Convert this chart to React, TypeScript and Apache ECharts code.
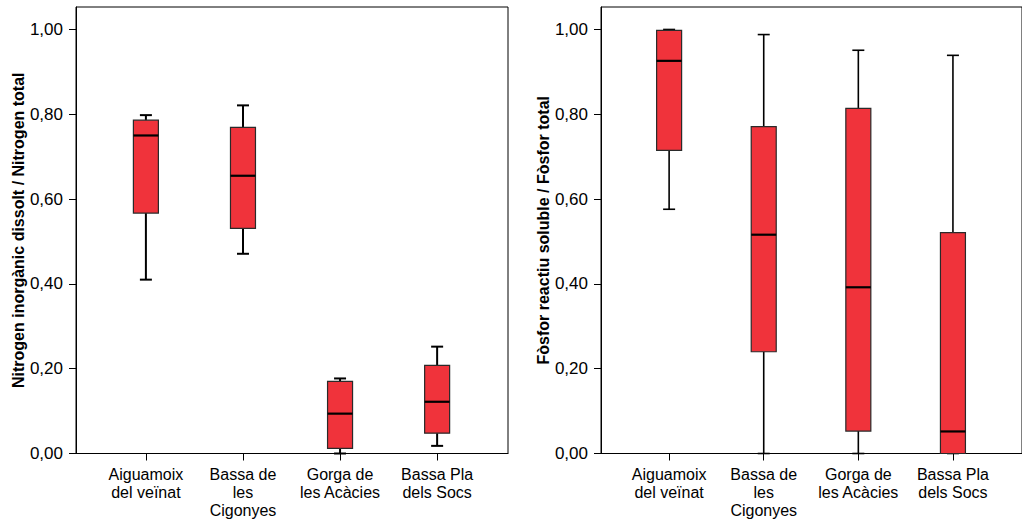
import React, { useEffect, useRef } from "react";
import * as echarts from "echarts";

const categories = [
  "Aiguamoix\ndel veïnat",
  "Bassa de\nles\nCigonyes",
  "Gorga de\nles Acàcies",
  "Bassa Pla\ndels Socs",
];

// [lower whisker, Q1, median, Q3, upper whisker]
const nitrogenStats = [
  [0.41, 0.567, 0.75, 0.786, 0.798],
  [0.471, 0.531, 0.655, 0.769, 0.821],
  [0.0, 0.012, 0.094, 0.17, 0.177],
  [0.018, 0.048, 0.122, 0.208, 0.252],
];

const phosphorusStats = [
  [0.576, 0.715, 0.926, 0.998, 1.0],
  [0.0, 0.24, 0.516, 0.771, 0.988],
  [0.0, 0.053, 0.392, 0.814, 0.951],
  [0.0, 0.0, 0.052, 0.521, 0.939],
];

const yTicks = [0, 0.2, 0.4, 0.6, 0.8, 1.0];
const xTicks = [0, 1, 2, 3];

const nitrogenTitle = "Nitrogen inorgànic dissolt / Nitrogen total";
const phosphorusTitle = "Fòsfor reactiu soluble / Fòsfor total";

const FONT = "'Liberation Sans', Arial, sans-serif";
const BOX_FILL = "#f0333b";

function makeRenderItem(whiskerWidth: number) {
  return (params: any, api: any) => {
    const x = api.value(0);
    const lo = api.coord([x, api.value(1)]);
    const q1 = api.coord([x, api.value(2)]);
    const med = api.coord([x, api.value(3)]);
    const q3 = api.coord([x, api.value(4)]);
    const hi = api.coord([x, api.value(5)]);
    const cx = lo[0];
    const half = 12.5;
    const capHalf = 6;
    const lineStyle = { stroke: "#000", lineWidth: whiskerWidth };
    return {
      type: "group",
      children: [
        { type: "line", shape: { x1: cx, y1: hi[1], x2: cx, y2: q3[1] }, style: lineStyle },
        { type: "line", shape: { x1: cx, y1: q1[1], x2: cx, y2: lo[1] }, style: lineStyle },
        { type: "line", shape: { x1: cx - capHalf, y1: hi[1], x2: cx + capHalf, y2: hi[1] }, style: lineStyle },
        { type: "line", shape: { x1: cx - capHalf, y1: lo[1], x2: cx + capHalf, y2: lo[1] }, style: lineStyle },
        {
          type: "rect",
          shape: { x: cx - half, y: q3[1], width: half * 2, height: q1[1] - q3[1] },
          style: { fill: BOX_FILL, stroke: "#2a2a2a", lineWidth: 1.2 },
        },
        {
          type: "line",
          shape: { x1: cx - half, y1: med[1], x2: cx + half, y2: med[1] },
          style: { stroke: "#000", lineWidth: 2.2 },
        },
      ],
    };
  };
}

function toData(stats: number[][]) {
  return stats.map((s, i) => [i, ...s]);
}

export default function App() {
  const ref = useRef<HTMLDivElement>(null);

  useEffect(() => {
    if (!ref.current) return;
    const chart = echarts.init(ref.current, undefined, { renderer: "svg" });

    const xAxisBase = (gridIndex: number) => ({
      type: "value",
      gridIndex,
      min: -0.72,
      max: 3.73,
      splitLine: { show: false },
      axisLine: { onZero: false, lineStyle: { color: "#000", width: 1 } },
      axisTick: {
        show: true,
        length: 7,
        customValues: xTicks,
        lineStyle: { color: "#000", width: 1 },
      },
      axisLabel: {
        customValues: xTicks,
        margin: 12,
        color: "#000",
        fontFamily: FONT,
        fontSize: 16,
        lineHeight: 18,
        formatter: (v: number) => categories[Math.round(v)] ?? "",
      },
    });

    const yAxisBase = (gridIndex: number, name: string, nameGap: number) => ({
      type: "value",
      gridIndex,
      min: 0,
      max: 1.053,
      name,
      nameLocation: "middle",
      nameGap,
      nameTextStyle: {
        color: "#000",
        fontFamily: FONT,
        fontSize: 16,
        fontWeight: "bold",
      },
      splitLine: { show: false },
      axisLine: { show: true, onZero: false, lineStyle: { color: "#000", width: 1 } },
      axisTick: {
        show: true,
        length: 7,
        customValues: yTicks,
        lineStyle: { color: "#000", width: 1 },
      },
      axisLabel: {
        customValues: yTicks,
        margin: 13,
        color: "#000",
        fontFamily: FONT,
        fontSize: 17,
        formatter: (v: number) => v.toFixed(2).replace(".", ","),
      },
    });

    chart.setOption({
      animation: false,
      backgroundColor: "#fff",
      grid: [
        { left: 76, top: 7, width: 432, height: 446.5, show: true, borderColor: "#000", borderWidth: 1, backgroundColor: "transparent" },
        { left: 601, top: 7, width: 432, height: 446.5, show: true, borderColor: "#000", borderWidth: 1, backgroundColor: "transparent" },
      ],
      xAxis: [xAxisBase(0), xAxisBase(1)],
      yAxis: [yAxisBase(0, nitrogenTitle, 47), yAxisBase(1, phosphorusTitle, 48)],
      series: [
        {
          type: "custom",
          xAxisIndex: 0,
          yAxisIndex: 0,
          renderItem: makeRenderItem(2),
          encode: { x: 0, y: [1, 2, 3, 4, 5] },
          data: toData(nitrogenStats),
        },
        {
          type: "custom",
          xAxisIndex: 1,
          yAxisIndex: 1,
          renderItem: makeRenderItem(1.6),
          encode: { x: 0, y: [1, 2, 3, 4, 5] },
          data: toData(phosphorusStats),
        },
      ],
    });

    return () => chart.dispose();
  }, []);

  return (
    <div
      ref={ref}
      style={{ position: "fixed", left: 0, top: 0, width: 1022, height: 521, background: "#fff" }}
    />
  );
}
